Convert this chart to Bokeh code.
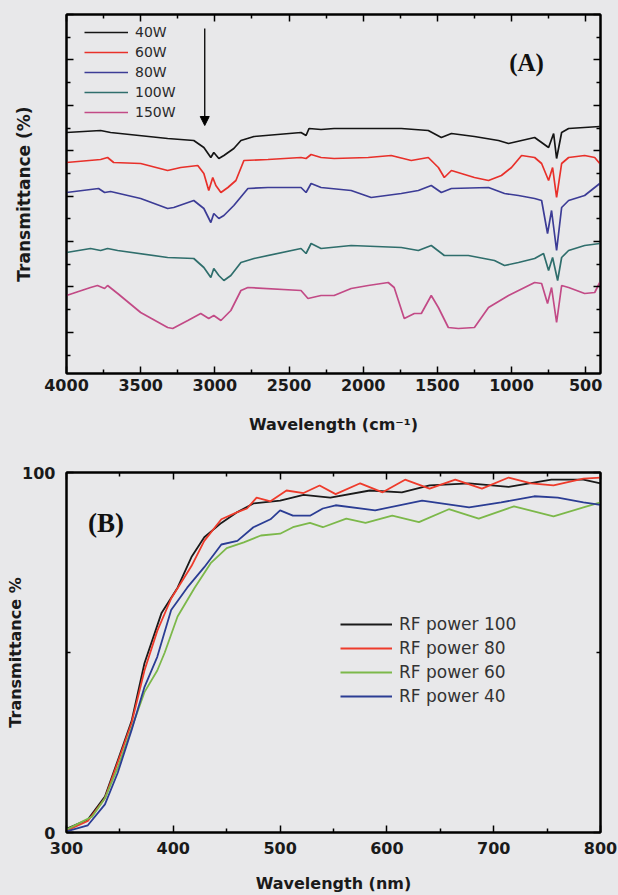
import numpy as np
from bokeh.plotting import figure
from bokeh.models import (Range1d, LinearAxis, FixedTicker, Legend, LegendItem,
                          Label, Arrow, NormalHead, CustomLabelingPolicy)
from bokeh.layouts import column
from bokeh.embed import file_html
from bokeh.resources import INLINE

BG = "#e8e8ea"

# ---------------- Panel A : FTIR spectra (x in cm-1, y in arbitrary units) ----------------
a_w40_x = [4000, 3770, 3703, 3318, 3142, 3074, 3027, 3007, 2973, 2939, 2872, 2824, 2736, 2419, 2385, 2365,
           2284, 2196, 1966, 1743, 1561, 1473, 1405, 1250, 1088, 1020, 844, 750, 716, 696, 662, 615, 405]
a_w40_y = [241, 243, 241, 235, 233, 226, 216, 221, 215, 218, 225, 233, 237, 241, 238, 245,
           244, 245, 245, 245, 243, 236, 240, 237, 233, 230, 236, 226, 240, 215, 241, 245, 247]

a_w60_x = [4000, 3770, 3723, 3682, 3500, 3318, 3230, 3115, 3074, 3041, 3014, 2993, 2959, 2912, 2858, 2804,
           2642, 2419, 2385, 2351, 2284, 2196, 1966, 1811, 1676, 1561, 1493, 1453, 1405, 1250, 1155, 1068,
           1000, 932, 844, 797, 750, 723, 696, 662, 615, 507, 439, 405]
a_w60_y = [211, 214, 216, 211, 210, 203, 206, 208, 200, 183, 196, 188, 181, 186, 193, 213,
           214, 216, 215, 219, 216, 215, 216, 218, 213, 216, 206, 196, 203, 196, 193, 198,
           206, 218, 216, 210, 193, 206, 176, 210, 216, 218, 216, 210]

a_w80_x = [4000, 3784, 3743, 3703, 3500, 3318, 3277, 3142, 3074, 3027, 3007, 2973, 2939, 2872, 2777, 2642,
           2419, 2385, 2351, 2284, 2081, 1946, 1743, 1628, 1541, 1473, 1405, 1155, 1047, 953, 844, 797,
           757, 730, 696, 662, 615, 507, 405]
a_w80_y = [181, 185, 181, 182, 175, 165, 166, 173, 165, 151, 160, 155, 158, 168, 185, 186,
           186, 181, 190, 186, 183, 176, 180, 183, 188, 181, 185, 186, 180, 178, 175, 173,
           140, 163, 123, 166, 173, 178, 190]

a_w100_x = [4000, 3838, 3770, 3723, 3655, 3318, 3142, 3074, 3027, 3007, 2973, 2939, 2892, 2824, 2736, 2419,
            2385, 2351, 2284, 2081, 1743, 1628, 1541, 1453, 1291, 1115, 1047, 953, 844, 784, 750, 723,
            689, 662, 615, 507, 405]
a_w100_y = [121, 125, 123, 125, 123, 116, 115, 106, 96, 105, 98, 93, 98, 111, 115, 125,
            120, 130, 125, 128, 126, 123, 128, 118, 118, 113, 108, 111, 115, 120, 103, 116,
            93, 116, 123, 128, 130]

a_w150_x = [4000, 3838, 3791, 3743, 3723, 3655, 3500, 3318, 3284, 3182, 3095, 3041, 3007, 2959, 2892, 2824,
            2777, 2419, 2372, 2284, 2196, 2081, 1966, 1831, 1791, 1723, 1655, 1608, 1541, 1493, 1426, 1358,
            1250, 1155, 1020, 844, 797, 757, 730, 696, 662, 615, 507, 439, 405]
a_w150_y = [78, 86, 88, 85, 88, 80, 61, 46, 45, 53, 60, 55, 58, 53, 63, 83,
            86, 83, 75, 78, 78, 85, 88, 91, 86, 55, 60, 60, 78, 66, 46, 45,
            46, 66, 78, 91, 90, 70, 86, 51, 88, 86, 80, 81, 91]

a_labels = ["40W", "60W", "80W", "100W", "150W"]
a_colors = ["#151515", "#e8302a", "#3c3c96", "#2f6e6c", "#c24a86"]
a_xticks = [4000, 3500, 3000, 2500, 2000, 1500, 1000, 500]
a_xminor = [3750, 3250, 2750, 2250, 1750, 1250, 750]

# ---------------- Panel B : UV-Vis transmittance ----------------
b_rf100_x = [300, 320, 336, 348, 361, 373, 389, 404, 417, 429, 445, 460, 475, 500, 522, 547, 584, 614,
             640, 677, 714, 754, 784, 800]
b_rf100_y = [1, 3.6, 10, 20, 31, 47, 61, 68, 76.5, 82, 86, 89, 91.4, 92.2, 93.8, 93, 95, 94.5,
             96.4, 97, 96, 98, 98, 97]

b_rf80_x = [300, 320, 336, 348, 361, 373, 385, 398, 417, 429, 445, 460, 469, 478, 491, 506, 522, 537,
            552, 575, 596, 617, 640, 664, 689, 714, 735, 756, 784, 800]
b_rf80_y = [0.5, 3.2, 9.5, 19.5, 30.5, 45, 56, 65, 74, 81, 87, 89, 90, 93, 92, 95, 94.3, 96.4,
            94, 97, 94.5, 98, 95.5, 98, 95.5, 98.6, 97, 96.4, 98.3, 98.6]

b_rf60_x = [300, 324, 336, 348, 361, 373, 385, 392, 404, 420, 435, 450, 466, 482, 500, 512, 528, 540,
            562, 580, 605, 630, 658, 686, 719, 756, 784, 800]
b_rf60_y = [0.8, 4.4, 9.5, 18, 29, 39, 45, 50, 60, 68, 74.8, 79, 80.6, 82.5, 83, 84.8, 86, 84.8,
            87.2, 86, 88, 86.2, 89.8, 87.2, 90.6, 87.8, 90.3, 91.7]

b_rf40_x = [300, 320, 336, 348, 361, 373, 385, 398, 413, 429, 445, 460, 475, 491, 500, 512, 528, 540,
            552, 589, 633, 677, 707, 738, 760, 784, 800]
b_rf40_y = [0.3, 2, 7.8, 16.6, 28.5, 40.4, 48.8, 61.8, 68, 73.7, 80, 81, 84.8, 87, 89.5, 88, 88, 90,
            90.9, 89.5, 92.2, 90.3, 91.7, 93.4, 93, 91.7, 91]

b_labels = ["RF power 100", "RF power 80", "RF power 60", "RF power 40"]
b_colors = ["#1a1a1a", "#ee3b2b", "#7cb84a", "#2b3d94"]
b_xticks = [300, 400, 500, 600, 700, 800]
b_xminor = [350, 450, 550, 650, 750]
b_yticks = [0, 100]
b_yminor = [50]

TICK_FONT = "DejaVu Sans"


def style_axis(ax, show_labels=True):
    ax.axis_line_width = 2
    ax.axis_line_color = "black"
    ax.major_tick_in = 7
    ax.major_tick_out = 0
    ax.minor_tick_in = 4
    ax.minor_tick_out = 0
    ax.major_tick_line_width = 1.5
    ax.minor_tick_line_width = 1.5
    ax.major_label_text_font = TICK_FONT
    ax.major_label_text_font_style = "bold"
    ax.major_label_text_color = "#1a1a1a"
    ax.axis_label_text_font = TICK_FONT
    ax.axis_label_text_font_style = "bold"
    ax.axis_label_text_font_size = "16px"
    ax.axis_label_text_color = "#1a1a1a"
    if show_labels:
        ax.major_label_text_font_size = "16px"
    else:
        # tick marks only: hide every tick label
        ax.major_label_text_font_size = "1px"
        ax.major_label_standoff = 0
        ax.major_label_policy = CustomLabelingPolicy(code="return []")


# ---------------- Figure A ----------------
pA = figure(width=618, height=440, x_range=Range1d(4000, 400), y_range=Range1d(0, 359),
            output_backend="svg", toolbar_location=None,
            min_border_left=66, min_border_right=18, min_border_top=14, min_border_bottom=67,
            background_fill_color=BG, border_fill_color=BG,
            outline_line_color="black", outline_line_width=2)
pA.grid.visible = False

a_ytick = [359 - 45.4 * k for k in range(8)]
a_yminor = [359 - 22.7 - 45.4 * k for k in range(8)]

xt = FixedTicker(ticks=a_xticks, minor_ticks=a_xminor)
yt = FixedTicker(ticks=a_ytick, minor_ticks=a_yminor)
pA.xaxis.ticker = xt
pA.yaxis.ticker = yt
style_axis(pA.xaxis[0])
style_axis(pA.yaxis[0], show_labels=False)
pA.xaxis.major_label_standoff = 5
pA.xaxis.axis_label = "Wavelength (cm\u207b\u00b9)"
pA.xaxis.axis_label_standoff = 21
pA.yaxis.axis_label = "Transmittance (%)"
pA.yaxis.axis_label_text_font_size = "17px"
pA.yaxis.axis_label_standoff = 26

topA = LinearAxis(ticker=xt)
style_axis(topA, show_labels=False)
pA.add_layout(topA, "above")
rightA = LinearAxis(ticker=yt)
style_axis(rightA, show_labels=False)
pA.add_layout(rightA, "right")

a_series = [(a_w40_x, a_w40_y), (a_w60_x, a_w60_y), (a_w80_x, a_w80_y),
            (a_w100_x, a_w100_y), (a_w150_x, a_w150_y)]
itemsA = []
for (xs, ys), lab, col in zip(a_series, a_labels, a_colors):
    r = pA.line(xs, ys, line_color=col, line_width=1.7)
    itemsA.append(LegendItem(label=lab, renderers=[r]))

legA = Legend(items=itemsA, location=(18, 251), glyph_width=44, glyph_height=20, label_height=20,
              label_standoff=7, spacing=0, padding=0, margin=0,
              border_line_alpha=0, background_fill_alpha=0,
              label_text_font="DejaVu Sans", label_text_font_size="14px",
              label_text_color="#2a2a2a")
pA.add_layout(legA)

pA.add_layout(Arrow(x_start=3068, y_start=345, x_end=3068, y_end=248, line_width=1.3,
                    line_color="black",
                    end=NormalHead(size=9, fill_color="black", line_color="black")))
pA.add_layout(Label(x=899, y=311, text="(A)", text_font="Liberation Serif",
                    text_font_style="bold", text_font_size="25px", text_color="#111111",
                    text_align="center", text_baseline="middle"))

# ---------------- Figure B ----------------
pB = figure(width=618, height=455, x_range=Range1d(300, 800), y_range=Range1d(0, 100),
            output_backend="svg", toolbar_location=None,
            min_border_left=61, min_border_right=18, min_border_top=32, min_border_bottom=62,
            background_fill_color=BG, border_fill_color=BG,
            outline_line_color="black", outline_line_width=2)
pB.grid.visible = False

bxt = FixedTicker(ticks=b_xticks, minor_ticks=b_xminor)
byt = FixedTicker(ticks=b_yticks, minor_ticks=b_yminor)
pB.xaxis.ticker = bxt
pB.yaxis.ticker = byt
style_axis(pB.xaxis[0])
style_axis(pB.yaxis[0])
pB.xaxis.major_label_standoff = 9
pB.yaxis.major_label_standoff = 11
pB.xaxis.axis_label = "Wavelength (nm)"
pB.xaxis.axis_label_standoff = 17
pB.yaxis.axis_label = "Transmittance %"
pB.yaxis.axis_label_standoff = -6

topB = LinearAxis(ticker=bxt)
style_axis(topB, show_labels=False)
pB.add_layout(topB, "above")
rightB = LinearAxis(ticker=byt)
style_axis(rightB, show_labels=False)
pB.add_layout(rightB, "right")

b_series = [(b_rf100_x, b_rf100_y), (b_rf80_x, b_rf80_y), (b_rf60_x, b_rf60_y), (b_rf40_x, b_rf40_y)]
itemsB = []
for (xs, ys), lab, col in zip(b_series, b_labels, b_colors):
    r = pB.line(xs, ys, line_color=col, line_width=1.8)
    itemsB.append(LegendItem(label=lab, renderers=[r]))

legB = Legend(items=itemsB, location=(274, 124), glyph_width=52, glyph_height=24, label_height=24,
              label_standoff=7, spacing=0, padding=0, margin=0,
              border_line_alpha=0, background_fill_alpha=0,
              label_text_font="DejaVu Sans", label_text_font_size="17px",
              label_text_color="#333333")
pB.add_layout(legB)

pB.add_layout(Label(x=337, y=86, text="(B)", text_font="Liberation Serif",
                    text_font_style="bold", text_font_size="27px", text_color="#111111",
                    text_align="center", text_baseline="middle"))

layout = column(pA, pB, spacing=0)
layout.styles = {"background-color": BG}

open("out.html", "w").write(file_html(layout, INLINE))
